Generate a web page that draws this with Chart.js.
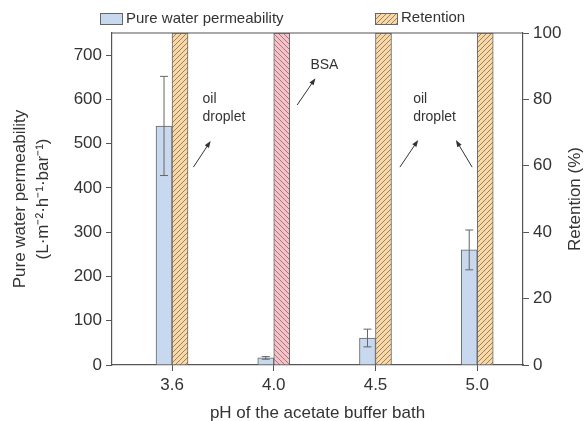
<!DOCTYPE html>
<html>
<head>
<meta charset="utf-8">
<script src="https://cdn.jsdelivr.net/npm/chart.js@4"></script>
<style>
  html, body { margin: 0; padding: 0; background: #fff; }
  #wrap { width: 585px; height: 421px; }
</style>
</head>
<body>
<div id="wrap"><canvas id="chart" width="585" height="421"></canvas></div>
<script>
/* Data */
const phLabels = ['3.6', '4.0', '4.5', '5.0']
const permeability = [540, 16, 61, 260]
const permeabilityErr = [112, 3, 20, 45]
const retention = [100, 100, 100, 100]
const retentionKind = ['oil', 'bsa', 'oil', 'oil']

/* Annotations, positioned in data units (x index, right axis %) */
const notes = [
    { x: 0.30, y: 80, text: 'oil' },
    { x: 0.30, y: 74.6, text: 'droplet' },
    { x: 1.36, y: 90.4, text: 'BSA' },
    { x: 2.37, y: 80, text: 'oil' },
    { x: 2.37, y: 74.6, text: 'droplet' }
]
const arrows = [
    { x1: 0.21, y1: 59.6, x2: 0.38, y2: 67.5 },
    { x1: 1.23, y1: 78.3, x2: 1.41, y2: 86.4 },
    { x1: 2.24, y1: 59.6, x2: 2.42, y2: 67.8 },
    { x1: 2.95, y1: 59.6, x2: 2.79, y2: 67.8 }
]

const axisColor = '#555'
const textColor = '#333'
const blueFill = '#c8d8ee'

Chart.defaults.font.family = '"Liberation Sans", Arial, sans-serif'
Chart.defaults.color = textColor

// hatch pattern for the retention bars
function makeHatch(fill, line, forward) {
    let s = 5
    let c = document.createElement('canvas')
    c.width = s
    c.height = s
    let g = c.getContext('2d')
    g.fillStyle = fill
    g.fillRect(0, 0, s, s)
    g.strokeStyle = line
    g.lineWidth = 0.8
    g.beginPath()
    if (forward) {
        g.moveTo(0, s); g.lineTo(s, 0)
        g.moveTo(-1, 1); g.lineTo(1, -1)
        g.moveTo(s - 1, s + 1); g.lineTo(s + 1, s - 1)
    } else {
        g.moveTo(0, 0); g.lineTo(s, s)
        g.moveTo(-1, s - 1); g.lineTo(1, s + 1)
        g.moveTo(s - 1, -1); g.lineTo(s + 1, 1)
    }
    g.stroke()
    return document.getElementById('chart').getContext('2d').createPattern(c, 'repeat')
}

let oilHatch = makeHatch('#f7d8a8', '#8a6a45', true)
let bsaHatch = makeHatch('#f4c3c9', '#98606a', false)
let retentionFills = retentionKind.map(k => k === 'bsa' ? bsaHatch : oilHatch)

// error bars on the permeability bars
const errorBars = {
    id: 'errorBars',
    afterDatasetsDraw(chart) {
        let meta = chart.getDatasetMeta(0)
        let y = chart.scales.y
        let ctx = chart.ctx
        ctx.save()
        ctx.strokeStyle = '#666'
        ctx.lineWidth = 1
        meta.data.forEach((bar, i) => {
            let top = y.getPixelForValue(permeability[i] + permeabilityErr[i])
            let bot = y.getPixelForValue(permeability[i] - permeabilityErr[i])
            ctx.beginPath()
            ctx.moveTo(bar.x, top); ctx.lineTo(bar.x, bot)
            ctx.moveTo(bar.x - 4, top); ctx.lineTo(bar.x + 4, top)
            ctx.moveTo(bar.x - 4, bot); ctx.lineTo(bar.x + 4, bot)
            ctx.stroke()
        })
        ctx.restore()
    }
}

// legend, frame top, right title and text annotations
const decorations = {
    id: 'decorations',
    afterDraw(chart) {
        let ctx = chart.ctx
        let area = chart.chartArea
        let x = chart.scales.x
        let y1 = chart.scales.y1
        ctx.save()

        // top border of the frame
        ctx.strokeStyle = axisColor
        ctx.lineWidth = 1.2
        ctx.beginPath()
        ctx.moveTo(area.left, area.top)
        ctx.lineTo(area.right, area.top)
        ctx.stroke()

        // legend
        ctx.font = '15px "Liberation Sans", Arial, sans-serif'
        ctx.textBaseline = 'middle'
        ctx.fillStyle = blueFill
        ctx.fillRect(100, 13, 22, 11)
        ctx.strokeStyle = '#666'
        ctx.lineWidth = 1
        ctx.strokeRect(100.5, 13.5, 22, 11)
        ctx.fillStyle = oilHatch
        ctx.fillRect(375, 13, 22, 11)
        ctx.strokeRect(375.5, 13.5, 22, 11)
        ctx.fillStyle = textColor
        ctx.fillText('Pure water permeability', 126, 19)
        ctx.fillText('Retention', 401, 18)

        // right axis title, reading bottom to top
        ctx.save()
        ctx.font = '17px "Liberation Sans", Arial, sans-serif'
        ctx.translate(575, (area.top + area.bottom) / 2)
        ctx.rotate(-Math.PI / 2)
        ctx.textAlign = 'center'
        ctx.fillText('Retention (%)', 0, 0)
        ctx.restore()

        // annotations
        ctx.font = '14px "Liberation Sans", Arial, sans-serif'
        ctx.textAlign = 'left'
        notes.forEach(n => {
            ctx.fillText(n.text, x.getPixelForValue(n.x), y1.getPixelForValue(n.y))
        })
        ctx.strokeStyle = '#333'
        ctx.fillStyle = '#333'
        arrows.forEach(a => {
            let px1 = x.getPixelForValue(a.x1), py1 = y1.getPixelForValue(a.y1)
            let px2 = x.getPixelForValue(a.x2), py2 = y1.getPixelForValue(a.y2)
            let ang = Math.atan2(py2 - py1, px2 - px1)
            ctx.beginPath()
            ctx.moveTo(px1, py1)
            ctx.lineTo(px2 - 5 * Math.cos(ang), py2 - 5 * Math.sin(ang))
            ctx.stroke()
            ctx.beginPath()
            ctx.moveTo(px2, py2)
            ctx.lineTo(px2 - 7 * Math.cos(ang) + 2.5 * Math.sin(ang), py2 - 7 * Math.sin(ang) - 2.5 * Math.cos(ang))
            ctx.lineTo(px2 - 7 * Math.cos(ang) - 2.5 * Math.sin(ang), py2 - 7 * Math.sin(ang) + 2.5 * Math.cos(ang))
            ctx.closePath()
            ctx.fill()
        })
        ctx.restore()
    }
}

let tickFont = { size: 17 }

new Chart(document.getElementById('chart'), {
    type: 'bar',
    data: {
        datasets: [
            {
                label: 'Pure water permeability',
                data: permeability.map((v, i) => ({ x: i, y: v })),
                backgroundColor: blueFill,
                borderColor: '#666',
                borderWidth: 1,
                yAxisID: 'y'
            },
            {
                label: 'Retention',
                data: retention.map((v, i) => ({ x: i, y: v })),
                backgroundColor: retentionFills,
                borderColor: '#666',
                borderWidth: 1,
                yAxisID: 'y1'
            }
        ]
    },
    plugins: [errorBars, decorations],
    options: {
        responsive: false,
        animation: false,
        barThickness: 16,
        layout: { padding: { top: 33, left: 0, right: 0, bottom: 0 } },
        plugins: {
            legend: { display: false },
            tooltip: { enabled: false }
        },
        scales: {
            x: {
                type: 'linear',
                offset: false,
                min: -0.59,
                max: 3.45,
                afterBuildTicks: scale => { scale.ticks = phLabels.map((_, i) => ({ value: i })) },
                afterFit: scale => { scale.height = 56 },
                ticks: {
                    font: tickFont,
                    padding: 4,
                    autoSkip: false,
                    maxRotation: 0,
                    callback: v => phLabels[v]
                },
                grid: { offset: false, drawOnChartArea: false, tickLength: 6, color: axisColor },
                border: { color: axisColor, width: 1.2 },
                title: {
                    display: true,
                    text: 'pH of the acetate buffer bath',
                    font: { size: 17, lineHeight: 1 },
                    padding: { top: 0, bottom: -1 }
                }
            },
            y: {
                position: 'left',
                min: 0,
                max: 750,
                afterBuildTicks: scale => { scale.ticks = scale.ticks.filter(t => t.value <= 700) },
                afterFit: scale => { scale.width = 112 },
                ticks: { stepSize: 100, font: tickFont, padding: 4 },
                grid: { drawOnChartArea: false, tickLength: 6, color: axisColor },
                border: { color: axisColor, width: 1.2 },
                title: {
                    display: true,
                    text: ['Pure water permeability', '(L·m⁻²·h⁻¹·bar⁻¹)'],
                    font: { size: 17, lineHeight: 1.35 },
                    padding: { top: 8.5, bottom: 0 }
                }
            },
            y1: {
                position: 'right',
                min: 0,
                max: 100,
                afterFit: scale => { scale.width = 62 },
                ticks: { stepSize: 20, font: tickFont, padding: 4 },
                grid: { drawOnChartArea: false, tickLength: 6, color: axisColor },
                border: { color: axisColor, width: 1.2 }
            }
        }
    }
})
</script>
</body>
</html>
